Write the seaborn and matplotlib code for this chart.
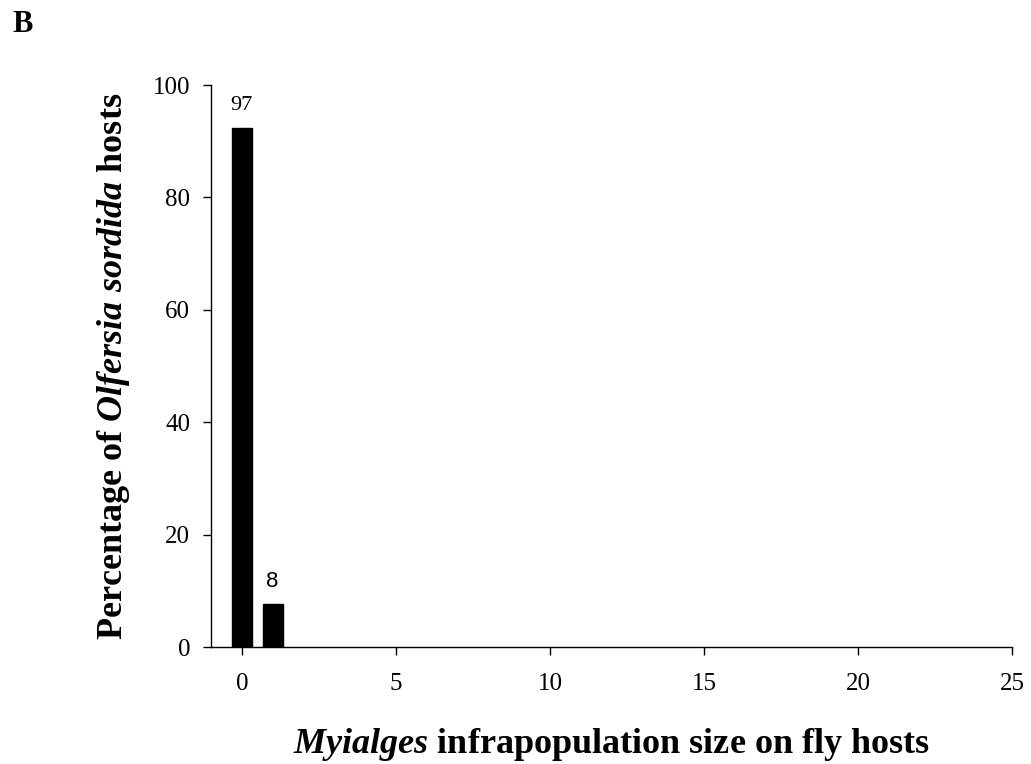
import matplotlib
matplotlib.use("Agg")
import matplotlib.pyplot as plt
import seaborn as sns
import numpy as np

# Data
infrapop_size = [0, 1]
host_counts = [97, 8]
total = sum(host_counts)
percent_hosts = [c / total * 100 for c in host_counts]
label_fonts = ["Liberation Serif", "Liberation Sans"]
x_ticks = [0, 5, 10, 15, 20, 25]
y_ticks = [0, 20, 40, 60, 80, 100]

sns.set_theme(style="ticks")
plt.rcParams["font.family"] = ["Liberation Serif", "DejaVu Serif"]
plt.rcParams["text.color"] = "black"
plt.rcParams["axes.labelcolor"] = "black"
plt.rcParams["xtick.color"] = "black"
plt.rcParams["ytick.color"] = "black"
plt.rcParams["mathtext.fontset"] = "custom"
plt.rcParams["mathtext.rm"] = "Liberation Serif:bold"
plt.rcParams["mathtext.it"] = "Liberation Serif:bold:italic"
plt.rcParams["mathtext.bf"] = "Liberation Serif:bold"

fig = plt.figure(figsize=(10.31, 7.64), dpi=100)
ax = fig.add_axes([0.2047, 0.1531, 0.9816 - 0.2047, 0.8887 - 0.1531])

sns.barplot(x=infrapop_size, y=percent_hosts, native_scale=True, width=0.65,
            color="black", edgecolor="black", saturation=1, ax=ax)

for xv, pv, cnt, fam in zip(infrapop_size, percent_hosts, host_counts, label_fonts):
    ax.annotate(str(cnt), xy=(xv, pv), xytext=(0, 9), textcoords="offset points",
                ha="center", va="bottom", fontsize=16, family=fam, color="black")

ax.set_xlim(-1, 25)
ax.set_ylim(0, 100)
ax.set_xticks(x_ticks)
ax.set_yticks(y_ticks)
ax.tick_params(axis="both", labelsize=18, length=6, width=1, direction="out")
ax.tick_params(axis="x", pad=13)
ax.tick_params(axis="y", pad=9)
for s in ["top", "right"]:
    ax.spines[s].set_visible(False)
for s in ["left", "bottom"]:
    ax.spines[s].set_color("black")
    ax.spines[s].set_linewidth(1)

ax.set_xlabel(r"$\mathit{Myialges}$ infrapopulation size on fly hosts",
              fontsize=26, fontweight="bold", labelpad=22)
ax.set_ylabel(r"Percentage of $\mathit{Olfersia\ sordida}$ hosts",
              fontsize=26, fontweight="bold", labelpad=15)

fig.text(12 / 1031, 1 - 10 / 764, "B", fontsize=22, fontweight="bold",
         va="top", ha="left")

fig.savefig("out.png", dpi=100)
